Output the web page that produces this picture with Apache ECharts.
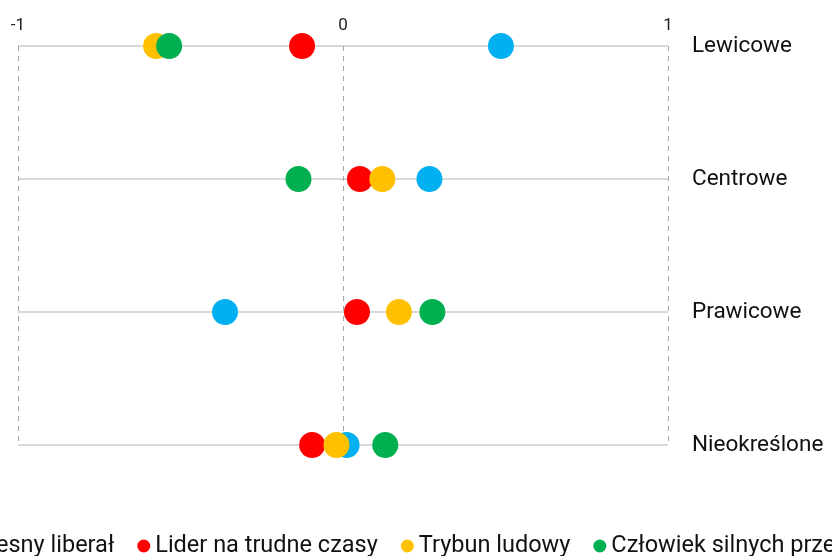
<!DOCTYPE html>
<html>
<head>
<meta charset="utf-8">
<script src="https://cdn.jsdelivr.net/npm/echarts@6/dist/echarts.min.js"></script>
<style>
html,body{margin:0;padding:0;background:#fff;}
#main{width:832px;height:556px;}
</style>
</head>
<body>
<div id="main"></div>
<script>
var categories = ['Lewicowe', 'Centrowe', 'Prawicowe', 'Nieokreślone'];
var xTicks = [-1, 0, 1];
var seriesNames = ['Nowoczesny liberał', 'Lider na trudne czasy', 'Trybun ludowy', 'Człowiek silnych przekonań'];
var colors = ['#00b0f0', '#ff0000', '#ffc000', '#00b050'];
// wartości w kolejności kategorii
var liberal = [0.486, 0.266, -0.363, 0.011];
var lider = [-0.126, 0.052, 0.043, -0.095];
var trybun = [-0.575, 0.121, 0.172, -0.02];
var silny = [-0.535, -0.137, 0.275, 0.13];

var myChart = echarts.init(document.getElementById('main'));

function toPoints(vals){
	var pts = [];
	for(var i = 0; i < vals.length; i++){
		pts.push([vals[i], categories[i]]);
	}
	return pts;
}

var allVals = [liberal, lider, trybun, silny];
var series = [];
for(var i = 0; i < seriesNames.length; i++){
	series.push({
		name: seriesNames[i],
		type: 'scatter',
		symbol: 'circle',
		symbolSize: 26,
		itemStyle: {color: colors[i], opacity: 1},
		data: toPoints(allVals[i])
	});
}

var option = {
	animation: false,
	backgroundColor: '#fff',
	textStyle: {fontFamily: 'Roboto'},
	grid: {left: 18, right: 164, top: 46, bottom: 111},
	legend: {
		data: seriesNames,
		top: 529,
		left: -112,
		width: 1400,
		icon: 'circle',
		itemWidth: 13,
		itemHeight: 13,
		itemGap: 23,
		textStyle: {fontSize: 23.5, color: '#111', fontFamily: 'Roboto'}
	},
	xAxis: {
		type: 'value',
		position: 'top',
		min: xTicks[0],
		max: xTicks[xTicks.length - 1],
		interval: 1,
		axisLine: {show: false},
		axisTick: {show: false},
		axisLabel: {fontSize: 17, color: '#222', margin: 12},
		splitLine: {show: true, lineStyle: {type: [5, 5], color: '#a6a6a6', width: 1}}
	},
	yAxis: {
		type: 'category',
		data: categories,
		inverse: true,
		boundaryGap: false,
		position: 'right',
		axisLine: {show: false},
		axisTick: {show: false},
		axisLabel: {fontSize: 22.5, color: '#111', margin: 24, lineHeight: 30, padding: [6, 0, 0, 0]},
		splitLine: {show: true, lineStyle: {color: '#d9d9d9', width: 2}}
	},
	series: series
};
myChart.setOption(option);
</script>
</body>
</html>
